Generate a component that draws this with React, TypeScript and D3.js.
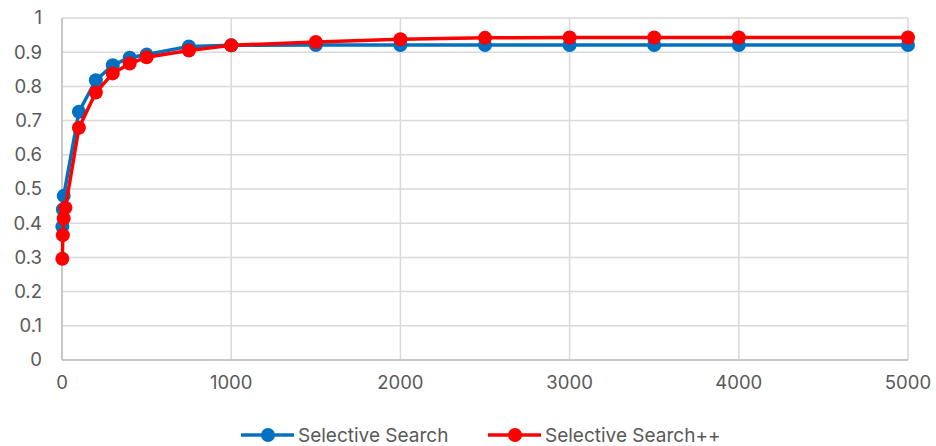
import React from "react";
import * as d3 from "d3";

// values
const blueX = [2, 5, 10, 100, 200, 300, 400, 500, 750, 1000, 1500, 2000, 2500, 3000, 3500, 4000, 5000];
const blueY = [0.39, 0.44, 0.48, 0.726, 0.818, 0.862, 0.884, 0.893, 0.917, 0.92, 0.921, 0.921, 0.921, 0.921, 0.921, 0.921, 0.921];
const redX = [2, 5, 10, 20, 100, 200, 300, 400, 500, 750, 1000, 1500, 2000, 2500, 3000, 3500, 4000, 5000];
const redY = [0.296, 0.365, 0.414, 0.445, 0.679, 0.782, 0.838, 0.867, 0.885, 0.905, 0.92, 0.93, 0.938, 0.942, 0.943, 0.943, 0.943, 0.943];
const xTicks = [0, 1000, 2000, 3000, 4000, 5000];
const yTicks = [0, 0.1, 0.2, 0.3, 0.4, 0.5, 0.6, 0.7, 0.8, 0.9, 1];
const seriesNames = ["Selective Search", "Selective Search++"];

const W = 936, H = 446;
const FONT = "Inter, 'Noto Sans', sans-serif";
const TXT = "#595959";

export default function App() {
    const x = d3.scaleLinear().domain([0, 5000]).range([62, 908]);
    const y = d3.scaleLinear().domain([0, 1]).range([360, 18]);
    const line = d3.line<[number, number]>()
        .x(d => x(d[0]))
        .y(d => y(d[1]));

    const series = [
        { name: seriesNames[0], color: "#0070C0", pts: blueX.map((v, i) => [v, blueY[i]] as [number, number]) },
        { name: seriesNames[1], color: "#FF0000", pts: redX.map((v, i) => [v, redY[i]] as [number, number]) },
    ];
    const legendX = [241, 488];

    return (
        <svg width={W} height={H} style={{ position: "absolute", left: 0, top: 0, background: "#fff" }}>
            {/* grid */}
            {yTicks.map(t => (
                <line key={"gy" + t} x1={x(0)} x2={x(5000)} y1={y(t)} y2={y(t)} stroke="#d9d9d9" strokeWidth={1.5} />
            ))}
            {xTicks.map(t => (
                <line key={"gx" + t} x1={x(t)} x2={x(t)} y1={y(0)} y2={y(1)} stroke="#d9d9d9" strokeWidth={1.5} />
            ))}
            <line x1={x(0)} x2={x(5000)} y1={y(0)} y2={y(0)} stroke="#bfbfbf" strokeWidth={1.5} />
            <line x1={x(0)} x2={x(0)} y1={y(0)} y2={y(1)} stroke="#bfbfbf" strokeWidth={1.5} />
            {/* tick labels */}
            {yTicks.map(t => (
                <text key={"ty" + t} x={42} y={y(t)} dy="0.35em" textAnchor="end" fill={TXT} fontFamily={FONT} fontSize={18.5}>
                    {d3.format("~g")(t)}
                </text>
            ))}
            {xTicks.map(t => (
                <text key={"tx" + t} x={x(t)} y={383} dy="0.35em" textAnchor="middle" fill={TXT} fontFamily={FONT} fontSize={18.5}>
                    {t}
                </text>
            ))}
            {/* series */}
            {series.map(s => (
                <g key={s.name}>
                    <path d={line(s.pts) || ""} fill="none" stroke={s.color} strokeWidth={3.5} strokeLinejoin="round" />
                    {s.pts.map((p, i) => (
                        <circle key={i} cx={x(p[0])} cy={y(p[1])} r={7} fill={s.color} />
                    ))}
                </g>
            ))}
            {/* legend */}
            {series.map((s, i) => (
                <g key={"lg" + i} transform={`translate(${legendX[i]},435)`}>
                    <line x1={0} x2={53} y1={0} y2={0} stroke={s.color} strokeWidth={3.5} />
                    <circle cx={27} cy={0} r={7} fill={s.color} />
                    <text x={57} y={0} dominantBaseline="central" fill={TXT} fontFamily={FONT} fontSize={19}>{s.name}</text>
                </g>
            ))}
        </svg>
    );
}
